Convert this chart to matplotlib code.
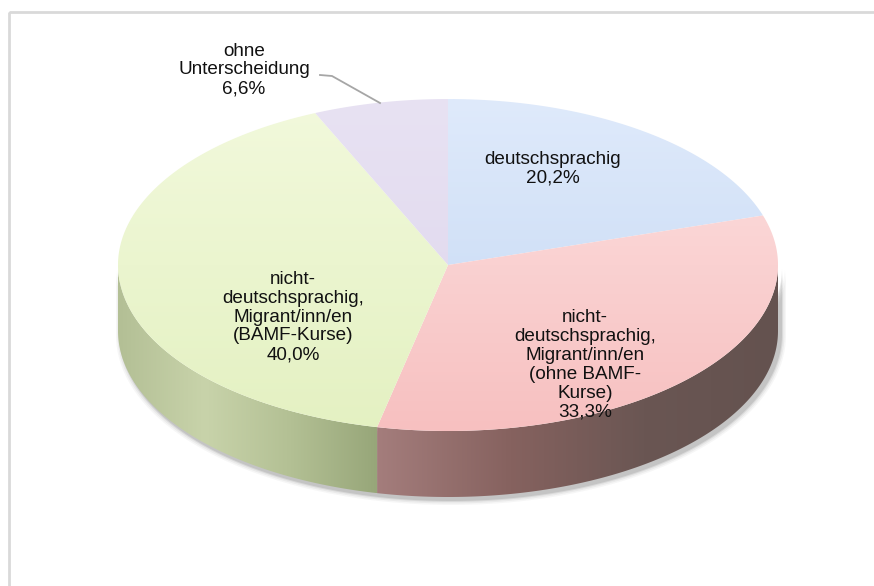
import matplotlib
matplotlib.use('Agg')
import matplotlib.pyplot as plt
import numpy as np
from matplotlib.patches import Polygon, Rectangle
from matplotlib.colors import LinearSegmentedColormap

# data
labels = ['deutschsprachig',
          'nicht-\ndeutschsprachig,\nMigrant/inn/en\n(ohne BAMF-\nKurse)',
          'nicht-\ndeutschsprachig,\nMigrant/inn/en\n(BAMF-Kurse)',
          'ohne\nUnterscheidung']
shares = [20.2, 33.3, 40.0, 6.6]
pct_text = ['20,2%', '33,3%', '40,0%', '6,6%']

# top face colours (upper, lower) and side wall colours (left -> right)
top_cols = [('#dfeafb', '#c3d7f3'), ('#fde2e2', '#f7c0c0'),
            ('#f2f9dc', '#e4f1c2'), ('#e8e2f3', '#ddd5ec')]
side_cols = [None, ['#a47d7c', '#86625f', '#6a5653', '#64524f'],
             ['#b3bf95', '#c8d3aa', '#b3c094', '#97a679'], None]

# pie geometry in pixels
cx, cy, ra, rb, depth = 448, 265, 330, 166, 66
label_pos = [(553, 169), (585, 365), (293, 317), (244, 70)]

plt.rcParams['font.family'] = ['Liberation Sans', 'DejaVu Sans']
fig = plt.figure(figsize=(8.74, 5.86), dpi=100)
ax = fig.add_axes([0, 0, 1, 1])
ax.set_xlim(0, 874)
ax.set_ylim(586, 0)
ax.axis('off')


def arc(t0, t1, n=200, dy=0):
    t = np.radians(np.linspace(t0, t1, n))
    return np.column_stack([cx + ra * np.cos(t), cy - rb * np.sin(t) + dy])


# tight drop shadow round the side wall
for g, al in [(5, 0.04), (3.5, 0.06), (2, 0.09), (1, 0.12)]:
    pts = np.vstack([arc(180, 360), arc(360, 180, dy=depth)])
    pts[:, 0] = cx + 3 + (pts[:, 0] - cx) * (1 + g / ra)
    pts[:, 1] = cy + 3 + (pts[:, 1] - cy) * (1 + g / (rb + depth))
    ax.add_patch(Polygon(pts, closed=True, fc='#303030', ec='none', alpha=al, zorder=1))

frac = np.array(shares) / sum(shares)
starts = 90 - 360 * np.concatenate([[0], np.cumsum(frac)[:-1]])
ends = starts - 360 * frac

# side walls
for i in range(len(shares)):
    if side_cols[i] is None:
        continue
    for k in (-360, 0, 360):
        lo = max(ends[i] + k, -180)
        hi = min(starts[i] + k, 0)
        if hi <= lo:
            continue
        pts = np.vstack([arc(hi, lo), arc(lo, hi, dy=depth)])
        poly = Polygon(pts, closed=True, fc='none', ec='none', transform=ax.transData)
        ax.add_patch(poly)
        x0, x1 = pts[:, 0].min(), pts[:, 0].max()
        y0, y1 = pts[:, 1].min(), pts[:, 1].max()
        cmap = LinearSegmentedColormap.from_list('s%d' % i, side_cols[i])
        im = ax.imshow(np.linspace(0, 1, 256).reshape(1, -1), cmap=cmap,
                       extent=[x0, x1, y1, y0], aspect='auto', zorder=2,
                       interpolation='bilinear')
        im.set_clip_path(poly)

# top faces
for i in range(len(shares)):
    pts = np.vstack([[cx, cy], arc(starts[i], ends[i])])
    poly = Polygon(pts, closed=True, fc='none', ec='none', transform=ax.transData)
    ax.add_patch(poly)
    cmap = LinearSegmentedColormap.from_list('t%d' % i, top_cols[i])
    im = ax.imshow(np.linspace(0, 1, 256).reshape(-1, 1), cmap=cmap,
                   extent=[cx - ra, cx + ra, cy + rb, cy - rb], aspect='auto',
                   zorder=3, interpolation='bilinear')
    im.set_clip_path(poly)

ax.set_xlim(0, 874)
ax.set_ylim(586, 0)

# labels
for i in range(len(shares)):
    x, y = label_pos[i]
    ax.text(x, y, labels[i] + '\n' + pct_text[i], ha='center', va='center',
            fontsize=13.6, linespacing=1.15, color='#111111', zorder=5)

# leader line for the small slice
ax.plot([320, 332, 380], [75, 76, 103], color='#a6a6a6', lw=1.3, zorder=4)

# chart border
ax.add_patch(Rectangle((9, 12), 900, 600, fc='none', ec='#d9d9d9', lw=2,
                       clip_on=False, zorder=6))

fig.savefig('out.png', dpi=100)
